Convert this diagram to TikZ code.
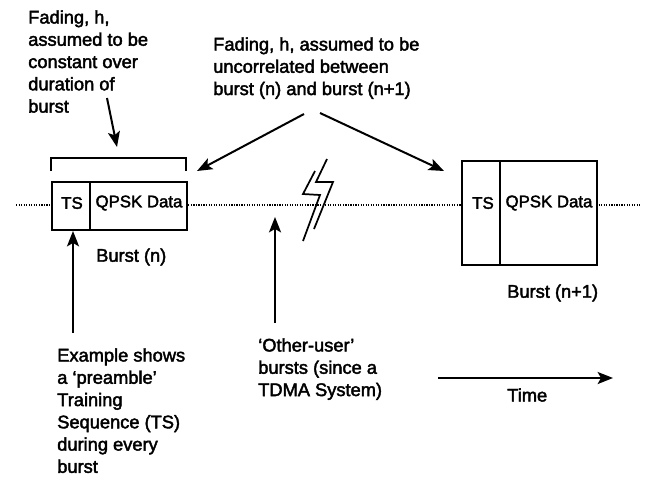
\documentclass[tikz,border=0pt]{standalone}
\usepackage{fontspec}
\setmainfont[FakeBold=2.2]{Liberation Sans}
\usetikzlibrary{arrows.meta}
\tikzset{
 x=0.75pt,y=-0.75pt,
 lbl/.style={inner sep=0pt,align=left,anchor=north west,font=\fontsize{13.7pt}{16.7pt}\selectfont},
 inbox/.style={inner sep=0pt,font=\fontsize{12.6pt}{14pt}\selectfont},
 boxln/.style={draw=black,line width=1.4pt,fill=white},
 arr/.style={draw=black,line width=1.5pt,-{Stealth[length=11.5pt,width=9pt,inset=2.5pt]}},
 dots/.style={draw=black,line width=0.9pt,densely dotted},
}
\begin{document}
\begin{tikzpicture}
\useasboundingbox (0,0) rectangle (645,476);
\coordinate (l1) at (16,205);
\coordinate (l2) at (640,205);
\draw[dots] (l1) -- (l2);
% burst n
\node[boxln,minimum width=135*0.75pt,minimum height=48*0.75pt,anchor=north west,inner sep=0pt] (b1) at (51,181) {};
\draw[line width=1.4pt] (90,181) coordinate (d1t) -- (90,229) coordinate (d1b);
\node[inbox] (ts1) at (72,203) {TS};
\node[inbox] (q1) at (139,203) {QPSK Data};
\node[lbl,anchor=west] (bn) at (96,257) {Burst (n)};
% bracket
\coordinate (br1) at (51,171); \coordinate (br2) at (51,158); \coordinate (br3) at (186,158); \coordinate (br4) at (186,171);
\draw[line width=1.4pt] (br1) -- (br2) -- (br3) -- (br4);
% burst n+1
\node[boxln,minimum width=135*0.75pt,minimum height=104*0.75pt,anchor=north west,inner sep=0pt] (b2) at (461,160) {};
\draw[line width=1.4pt] (500,160) coordinate (d2t) -- (500,264) coordinate (d2b);
\node[inbox] (ts2) at (483,203) {TS};
\node[inbox] (q2) at (549,203) {QPSK Data};
\node[lbl,anchor=west] (bn1) at (507,293) {Burst (n+1)};
% lightning
\coordinate (z1) at (327,159); \coordinate (z2) at (316,182); \coordinate (z3) at (333,182); \coordinate (z4) at (314,229);
\coordinate (z5) at (315,171); \coordinate (z6) at (303,194); \coordinate (z7) at (320,195); \coordinate (z8) at (303,241);
\draw[line width=1.3pt] (z1) -- (z2) -- (z3) -- (z4);
\draw[line width=1.3pt] (z5) -- (z6) -- (z7) -- (z8);
% labels
\node[lbl] (t1) at (28,10) {Fading, h,\\assumed to be\\constant over\\duration of\\burst};
\node[lbl] (t2) at (213,37) {Fading, h, assumed to be\\uncorrelated between\\burst (n) and burst (n+1)};
\node[lbl] (t3) at (57,348) {Example shows\\a `preamble'\\Training\\Sequence (TS)\\during every\\burst};
\node[lbl] (t4) at (258,338) {`Other-user'\\bursts (since a\\TDMA System)};
\node[lbl,anchor=west] (t5) at (507,395) {Time};
% arrows
\coordinate (a1s) at (107,98); \coordinate (a1e) at (117,147);
\coordinate (a2s) at (304,114); \coordinate (a2e) at (197,171);
\coordinate (a3s) at (320,113); \coordinate (a3e) at (444,171);
\coordinate (a4s) at (73,333); \coordinate (a4e) at (73,231);
\coordinate (a5s) at (275,323); \coordinate (a5e) at (275,217);
\coordinate (a6s) at (438,378); \coordinate (a6e) at (613,378);
\foreach \s/\e in {a1s/a1e,a2s/a2e,a3s/a3e,a4s/a4e,a5s/a5e,a6s/a6e} \draw[arr] (\s) -- (\e);
\end{tikzpicture}
\end{document}
